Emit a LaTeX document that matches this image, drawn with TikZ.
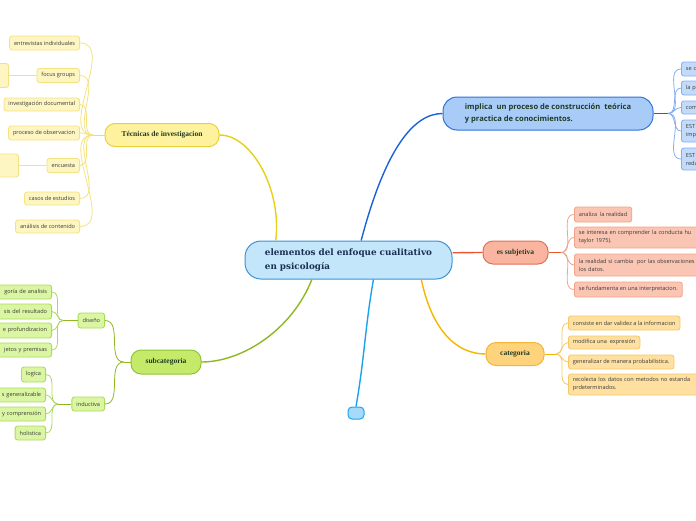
\documentclass[tikz,border=0pt]{standalone}
\usepackage{fontspec}
\setmainfont{Open Sans}
\newfontfamily\ramafont{Liberation Serif}
\newfontfamily\raizfont{DejaVu Serif}
\definecolor{raizfondo}{HTML}{C4E6FA}
\definecolor{raizborde}{HTML}{3B93D6}
\definecolor{raiztexto}{HTML}{1B2F52}
\definecolor{ramatexto}{HTML}{1E3B24}
\definecolor{hojatexto}{HTML}{3A3A3A}
\definecolor{amalinea}{HTML}{E6CF1A}
\definecolor{amafondo}{HTML}{FFF29E}
\definecolor{amaborde}{HTML}{E8D23A}
\definecolor{amahoja}{HTML}{FDF6C3}
\definecolor{amahojaborde}{HTML}{F4E27E}
\definecolor{verlinea}{HTML}{8DB81F}
\definecolor{verfondo}{HTML}{C5EA6A}
\definecolor{verborde}{HTML}{8FC43A}
\definecolor{verhoja}{HTML}{DAF6A2}
\definecolor{verhojaborde}{HTML}{AAD95C}
\definecolor{azulinea}{HTML}{1A63D6}
\definecolor{azufondo}{HTML}{A9CBF8}
\definecolor{azuborde}{HTML}{2F74D6}
\definecolor{azuhoja}{HTML}{C2DBFB}
\definecolor{azuhojaborde}{HTML}{86AEF0}
\definecolor{rojlinea}{HTML}{E8552E}
\definecolor{rojfondo}{HTML}{F9B5A0}
\definecolor{rojborde}{HTML}{E56F4F}
\definecolor{rojhoja}{HTML}{FBC5B3}
\definecolor{rojhojaborde}{HTML}{F0A389}
\definecolor{narlinea}{HTML}{F5B500}
\definecolor{narfondo}{HTML}{FFD27C}
\definecolor{narborde}{HTML}{F1B63A}
\definecolor{narhoja}{HTML}{FFE0A0}
\definecolor{narhojaborde}{HTML}{F5C865}
\definecolor{cielinea}{HTML}{1AA3EA}
\definecolor{ciefondo}{HTML}{A5DAFB}
\definecolor{cieborde}{HTML}{21A2EE}
\begin{document}
\begin{tikzpicture}[
    x=1pt, y=-1pt,
    raiz/.style={
        draw=raizborde,
        fill=raizfondo,
        line width=1pt,
        rounded corners=16pt,
        minimum width=207pt,
        minimum height=38pt,
        inner sep=0pt,
        align=left,
        text=raiztexto,
        font=\raizfont\bfseries\fontsize{8.8}{14}\selectfont
    },
    rama/.style={
        draw,
        line width=1pt,
        rounded corners=10pt,
        inner sep=0pt,
        minimum height=23pt,
        text=ramatexto,
        font=\ramafont\bfseries\fontsize{7.5}{9}\selectfont
    },
    hoja/.style={
        draw,
        line width=0.8pt,
        rounded corners=2.5pt,
        inner xsep=4.5pt,
        inner ysep=1pt,
        minimum height=14pt,
        text=hojatexto,
        font=\fontsize{5.6}{8}\selectfont
    },
    hojaizq/.style={hoja, anchor=east, align=right},
    hojader/.style={hoja, anchor=west, align=left},
    ama/.style={fill=amahoja, draw=amahojaborde},
    ver/.style={fill=verhoja, draw=verhojaborde},
    azu/.style={fill=azuhoja, draw=azuhojaborde},
    roj/.style={fill=rojhoja, draw=rojhojaborde},
    nar/.style={fill=narhoja, draw=narhojaborde},
    brazo/.style={line width=1.4pt},
    abanico/.style={line width=0.8pt}
]
    \useasboundingbox (0,0) rectangle (696,520);

    \node[raiz] (enfoque) at (348.5,260) {elementos del enfoque cualitativo\\en psicología};

    \node[rama, fill=amafondo, draw=amaborde, minimum width=114pt] (tecnicas) at (162,135) {Técnicas de investigacion};
    \node[rama, fill=verfondo, draw=verborde, minimum width=70pt, minimum height=24pt] (subcategoria) at (166,362) {subcategoria};
    \node[rama, fill=azufondo, draw=azuborde, minimum width=210pt, minimum height=33pt,
        rounded corners=14pt, align=left, text=ramatexto,
        font=\bfseries\fontsize{7.6}{12}\selectfont] (implica) at (548,113.5)
        {implica~ un proceso de construcción~ teórica\\y practica de conocimientos.};
    \node[rama, fill=rojfondo, draw=rojborde, minimum width=65pt] (subjetiva) at (515.5,252.5) {es subjetiva};
    \node[rama, fill=narfondo, draw=narborde, minimum width=58pt] (categoria) at (515,354) {categoria};
    \node[draw=cieborde, fill=ciefondo, line width=1pt, rounded corners=4pt,
        minimum width=16pt, minimum height=12pt, inner sep=0pt] (vacio) at (356,413) {};

    \node[hojaizq, ama] (entrevistas) at (80,43) {entrevistas individuales};
    \node[hojaizq, ama] (focus) at (80,75.5) {focus groups};
    \node[hojaizq, ama, text width=50pt, minimum height=24pt] (focus-sub) at (9,75.5) {};
    \node[hojaizq, ama, minimum height=13pt] (documental) at (80,104.5) {investigación documental};
    \node[hojaizq, ama] (observacion) at (80,133) {proceso de observacion};
    \node[hojaizq, ama] (encuesta) at (80,165.5) {encuesta};
    \node[hojaizq, ama, text width=60pt, minimum height=23pt] (encuesta-sub) at (19,165.5) {};
    \node[hojaizq, ama, minimum height=13pt] (casos) at (80,198.5) {casos de estudios};
    \node[hojaizq, ama, minimum height=13pt] (contenido) at (80,226.5) {análisis de contenido};

    \node[hojaizq, ver, minimum height=15pt] (diseno) at (105,320.5) {diseño};
    \node[hojaizq, ver] (inductiva) at (105,404) {inductiva};
    \node[hojaizq, ver, text width=100pt] (analisis) at (52,292) {goría de analisis};
    \node[hojaizq, ver, minimum height=15pt, text width=100pt] (resultado) at (52,311.5) {sis del resultado};
    \node[hojaizq, ver, minimum height=15pt, text width=100pt] (profundizacion) at (52,330.5) {e profundizacion};
    \node[hojaizq, ver, text width=100pt] (premisas) at (52,350) {jetos y premisas};
    \node[hojaizq, ver, minimum height=15pt] (logica) at (46,374.5) {logica};
    \node[hojaizq, ver, text width=100pt] (generalizable) at (46,395) {s generalizable};
    \node[hojaizq, ver, text width=100pt] (comprension) at (46,414) {y comprensión};
    \node[hojaizq, ver] (holistica) at (46,433) {holistica};

    \node[hojader, azu, text width=100pt] (se-c) at (681,69) {se c};
    \node[hojader, azu, text width=100pt] (la-p) at (681,88) {la p};
    \node[hojader, azu, minimum height=13pt, text width=100pt] (com) at (681,107.5) {com};
    \node[hojader, azu, minimum height=22pt, text width=100pt] (est-imp) at (681,131) {EST\\imp};
    \node[hojader, azu, minimum height=22pt, text width=100pt] (est-reda) at (681,159) {EST\\reda};

    \node[hojader, roj, minimum height=15pt] (realidad) at (574,214.5) {analiza~ la realidad};
    \node[hojader, roj, minimum height=21pt, text width=180pt] (conducta) at (574,237.5)
        {se interesa en comprender la conducta hu\\taylor 1975).};
    \node[hojader, roj, minimum height=22pt, text width=180pt] (cambia) at (574,265)
        {la realidad si cambia~ por las observaciones\\los datos.};
    \node[hojader, roj, minimum height=15pt] (interpretacion) at (574,289.5) {se fundamenta en una interpretacion.};

    \node[hojader, nar] (validez) at (568,323) {consiste en dar validez a la informacion};
    \node[hojader, nar, minimum height=13pt] (expresion) at (568,342.5) {modifica una~ expresión};
    \node[hojader, nar] (probabilistica) at (568,362) {generalizar de manera probabilística.};
    \node[hojader, nar, minimum height=21pt, text width=180pt] (estandar) at (568,384.5)
        {recolecta los datos con metodos no estanda\\prdeterminados.};

    \coordinate (tec-nudo) at (93,135);
    \coordinate (dis-nudo) at (63,320.5);
    \coordinate (ind-nudo) at (58,404);
    \coordinate (sub-nudo) at (124,362);
    \coordinate (imp-nudo) at (668,113.5);
    \coordinate (subj-nudo) at (561,252.5);
    \coordinate (cat-nudo) at (556,354);

    \draw[brazo, amalinea] (enfoque.165) .. controls (282,190) and (252,135) .. (tecnicas.east);
    \draw[brazo, verlinea] (enfoque.208) .. controls (292,330) and (242,362) .. (subcategoria.east);
    \draw[brazo, azulinea] (enfoque.57) .. controls (385,150) and (413,113.5) .. (implica.west);
    \draw[brazo, rojlinea] (enfoque.4) to[out=0,in=180] (subjetiva.west);
    \draw[brazo, narlinea] (enfoque.-15) .. controls (432,330) and (456,354) .. (categoria.west);
    \draw[brazo, cielinea] (enfoque.-38) to[out=-100,in=80] (vacio.north);

    \draw[abanico, amalinea!70] (tecnicas.west) -- (tec-nudo);
    \draw[abanico, amahojaborde] (tec-nudo) to[out=180,in=0] (entrevistas.east);
    \draw[abanico, amahojaborde] (tec-nudo) to[out=180,in=0] (focus.east);
    \draw[abanico, amahojaborde] (tec-nudo) to[out=180,in=0] (documental.east);
    \draw[abanico, amahojaborde] (tec-nudo) to[out=180,in=0] (observacion.east);
    \draw[abanico, amahojaborde] (tec-nudo) to[out=180,in=0] (encuesta.east);
    \draw[abanico, amahojaborde] (tec-nudo) to[out=180,in=0] (casos.east);
    \draw[abanico, amahojaborde] (tec-nudo) to[out=180,in=0] (contenido.east);
    \draw[abanico, amahojaborde] (focus.west) -- (focus-sub.east);
    \draw[abanico, amahojaborde] (encuesta.west) -- (encuesta-sub.east);

    \draw[abanico, verlinea] (subcategoria.west) -- (sub-nudo);
    \draw[abanico, verlinea] (sub-nudo) to[out=180,in=0] (diseno.east);
    \draw[abanico, verlinea] (sub-nudo) to[out=180,in=0] (inductiva.east);
    \draw[abanico, verlinea] (diseno.west) -- (dis-nudo);
    \draw[abanico, verhojaborde] (dis-nudo) to[out=180,in=0] (analisis.east);
    \draw[abanico, verhojaborde] (dis-nudo) to[out=180,in=0] (resultado.east);
    \draw[abanico, verhojaborde] (dis-nudo) to[out=180,in=0] (profundizacion.east);
    \draw[abanico, verhojaborde] (dis-nudo) to[out=180,in=0] (premisas.east);
    \draw[abanico, verlinea] (inductiva.west) -- (ind-nudo);
    \draw[abanico, verhojaborde] (ind-nudo) to[out=180,in=0] (logica.east);
    \draw[abanico, verhojaborde] (ind-nudo) to[out=180,in=0] (generalizable.east);
    \draw[abanico, verhojaborde] (ind-nudo) to[out=180,in=0] (comprension.east);
    \draw[abanico, verhojaborde] (ind-nudo) to[out=180,in=0] (holistica.east);

    \draw[abanico, azulinea] (implica.east) -- (imp-nudo);
    \draw[abanico, azuhojaborde] (imp-nudo) to[out=0,in=180] (se-c.west);
    \draw[abanico, azuhojaborde] (imp-nudo) to[out=0,in=180] (la-p.west);
    \draw[abanico, azuhojaborde] (imp-nudo) to[out=0,in=180] (com.west);
    \draw[abanico, azuhojaborde] (imp-nudo) to[out=0,in=180] (est-imp.west);
    \draw[abanico, azuhojaborde] (imp-nudo) to[out=0,in=180] (est-reda.west);

    \draw[abanico, rojlinea] (subjetiva.east) -- (subj-nudo);
    \draw[abanico, rojhojaborde] (subj-nudo) to[out=0,in=180] (realidad.west);
    \draw[abanico, rojhojaborde] (subj-nudo) to[out=0,in=180] (conducta.west);
    \draw[abanico, rojhojaborde] (subj-nudo) to[out=0,in=180] (cambia.west);
    \draw[abanico, rojhojaborde] (subj-nudo) to[out=0,in=180] (interpretacion.west);

    \draw[abanico, narlinea] (categoria.east) -- (cat-nudo);
    \draw[abanico, narhojaborde] (cat-nudo) to[out=0,in=180] (validez.west);
    \draw[abanico, narhojaborde] (cat-nudo) to[out=0,in=180] (expresion.west);
    \draw[abanico, narhojaborde] (cat-nudo) to[out=0,in=180] (probabilistica.west);
    \draw[abanico, narhojaborde] (cat-nudo) to[out=0,in=180] (estandar.west);
\end{tikzpicture}
\end{document}
